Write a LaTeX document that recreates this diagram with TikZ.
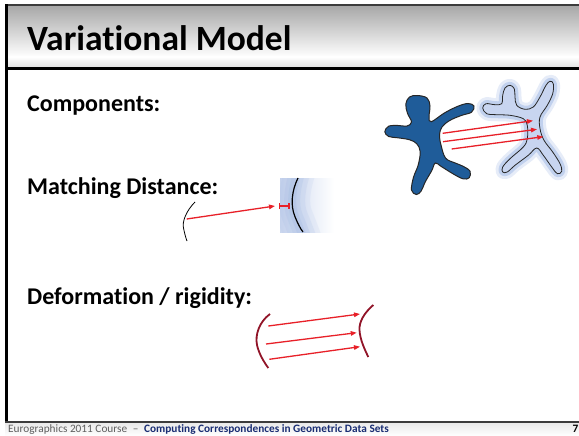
\documentclass[tikz,border=0pt]{standalone}
\usepackage{fontspec}
\setmainfont{Carlito}[Ligatures=NoCommon]
\usetikzlibrary{arrows.meta}

\definecolor{figblue}{RGB}{31,92,153}
\definecolor{arrowred}{RGB}{232,32,40}
\definecolor{curvered}{RGB}{145,20,40}
\definecolor{glowblue}{RGB}{178,198,234}
\definecolor{haloblue}{RGB}{214,224,244}
\definecolor{paleblue}{RGB}{200,213,240}
\definecolor{fieldblue}{RGB}{160,182,225}
\definecolor{footblue}{RGB}{25,45,115}
\definecolor{footgray}{RGB}{95,95,95}
\definecolor{headtop}{RGB}{168,168,168}
\definecolor{headlow}{RGB}{226,226,226}
\definecolor{rulegray}{RGB}{60,60,60}
\definecolor{foottop}{RGB}{232,232,232}

\tikzset{
  corr/.style={draw=arrowred, line width=1.3pt, -{Triangle[length=6pt,width=4.5pt]}},
  gapbar/.style={draw=arrowred, line width=1.1pt, {Bar[width=6pt]}-{Bar[width=6pt]}},
  boundary/.style={draw=curvered, line width=1.8pt},
  thincurve/.style={draw=black, line width=0.8pt},
  heading/.style={font=\fontsize{24}{28}\selectfont\bfseries, anchor=base west, inner sep=0pt},
}

\begin{document}
\begin{tikzpicture}[x=1pt,y=-1pt]
\useasboundingbox (0,0) rectangle (579,436);
\fill[white] (0,0) rectangle (579,436);

% ---- slide frame ----
\shade[top color=headtop, bottom color=white] (5,6) rectangle (579,57);
\shade[top color=white, bottom color=headlow] (5,57) rectangle (579,67.5);
\fill[rulegray] (5,3.8) rectangle (579,6);
\fill[black] (5,67.5) rectangle (579,70);
\fill[black] (5,3.8) rectangle (8,422);
\shade[top color=foottop, bottom color=white] (5,422) rectangle (579,436);
\fill[rulegray] (5,421.3) rectangle (579,422.6);

% ---- texts ----
\node[anchor=base west, inner sep=0pt, font=\fontsize{35.5}{40}\selectfont\bfseries] (title) at (27,51) {Variational Model};
\node[heading] (comp) at (27,112) {Components:};
\node[heading] (match) at (27,194) {Matching Distance:};
\node[heading] (deform) at (27,304) {Deformation / rigidity:};
\node[anchor=base west, inner sep=0pt, font=\fontsize{11.3}{13}\selectfont] (foot) at (8,432.8)
  {\textcolor{footgray}{Eurographics 2011 Course\hspace{0.5em}--\hspace{0.5em}}\textcolor{footblue}{\bfseries Computing Correspondences in Geometric Data Sets}};
\node[anchor=base east, inner sep=0pt, font=\fontsize{11.3}{13}\selectfont\bfseries] (page) at (578.5,432.8) {7};

% ---- components: source shape ----
\filldraw[fill=figblue, draw=black!85, line width=1pt]
  plot[smooth cycle, tension=0.6] coordinates {
  (417.3,95.5) (427,98) (430,106) (429,117) (431.3,121.7) (444.7,112.8)
  (458,106.2) (468,103.5) (474,106) (471.5,112.2) (461.3,115.5) (449.7,120.5)
  (442,127) (439.5,135) (441,145) (445.5,158) (454.7,162.8) (463,166.2)
  (470,171.2) (469.2,177.8) (463,178.8) (453,173.8) (441.3,166.5) (435.3,163)
  (431.8,170.5) (425.2,182) (421.2,191) (416.3,194.5) (411.5,190) (413.5,177.3)
  (418.2,165) (420.2,151.7) (416.8,143.8) (409.7,139.8) (398,137.8) (388.7,136.5)
  (384.8,131.7) (388.7,126.2) (398,125.5) (407,126) (411.5,122) (407.5,113.3)
  (405.8,104) (409.5,97)};

% ---- components: target shape with glow ----
\def\targetshape{plot[smooth cycle, tension=0.6] coordinates {
  (482.7,108) (486,103.7) (495,104.7) (501.7,103.7) (502.7,95.3) (505,88)
  (510,85.3) (514.3,88.7) (515,97) (516.7,105.3) (525,109.3) (533.3,107)
  (540,97) (546,85.3) (550,81.3) (553.3,83.7) (552.7,93.7) (547.3,105.3)
  (540,117) (540,128.7) (544,140.3) (552.7,152) (560,163.7) (561.7,171.3)
  (557.3,173.7) (551.7,167) (543.3,155.3) (536.7,148) (528.3,155.3) (515,165.3)
  (507.3,172) (502.7,172) (502.7,167) (510,158.7) (523.3,147) (527.3,138.7)
  (527.3,125.3) (523.3,118.7) (510,115.3) (496.7,114.7) (486.7,113.7)}}
\draw[haloblue, line width=13pt, line join=round, opacity=0.6] \targetshape;
\draw[glowblue, line width=7pt, line join=round, opacity=0.7] \targetshape;
\fill[paleblue] \targetshape;
\draw[black!85, line width=0.8pt] \targetshape;

\coordinate (s1) at (442.7,133.3); \coordinate (t1) at (533,120.7);
\coordinate (s2) at (443,141.7);   \coordinate (t2) at (537,129.3);
\coordinate (s3) at (451.7,149);   \coordinate (t3) at (543.3,136.7);
\foreach \i in {1,2,3} {\draw[corr] (s\i) -- (t\i);}

% ---- matching distance ----
\begin{scope}
  \clip (280,178) rectangle (334,232);
  \shade[left color=fieldblue!55, right color=white] (280,178) rectangle (334,232);
  \foreach \w/\o in {36/0.12, 26/0.16, 16/0.2, 8/0.25}
    \draw[fieldblue, line width=\w pt, opacity=\o]
      (298,170) .. controls (292,188) and (290,205) .. (295,216.7) .. controls (298,224) and (300,229) .. (304,240);
\end{scope}
\draw[thincurve, line width=1.2pt]
  (298,178) .. controls (292,190) and (290,205) .. (295,216.7) .. controls (298,224) and (300,228) .. (303,232);
\draw[thincurve] (195,202) .. controls (186,211) and (182,222) .. (183.5,228) .. controls (184.5,233) and (185.5,237) .. (187,241);

\coordinate (ms) at (186.7,219); \coordinate (mt) at (275,206);
\coordinate (ga) at (279.3,206); \coordinate (gb) at (289.5,206);
\draw[corr] (ms) -- (mt);
\draw[gapbar] (ga) -- (gb);

% ---- deformation / rigidity ----
\draw[boundary] (270,314) .. controls (259,322) and (255,335) .. (257,345) .. controls (259,354) and (264,362) .. (268.3,368);
\draw[boundary] (373.3,305) .. controls (364,313) and (359,322) .. (359.5,330) .. controls (360,340) and (365,350) .. (368.3,357);

\coordinate (d1) at (268.3,326); \coordinate (e1) at (360,314);
\coordinate (d2) at (266,344);   \coordinate (e2) at (356.7,332.7);
\coordinate (d3) at (269.3,359.3); \coordinate (e3) at (360,346.7);
\foreach \i in {1,2,3} {\draw[corr] (d\i) -- (e\i);}
\end{tikzpicture}
\end{document}
